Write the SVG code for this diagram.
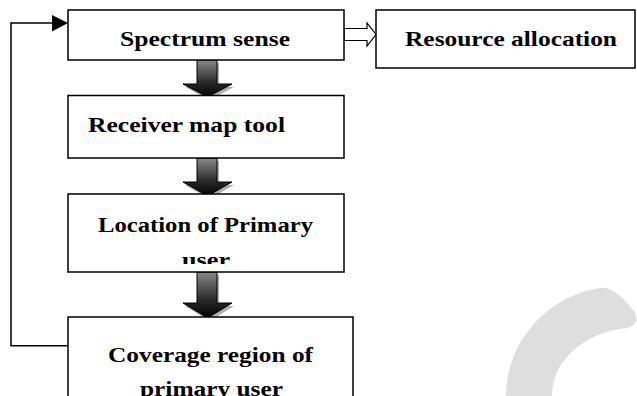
<svg xmlns="http://www.w3.org/2000/svg" width="637" height="396" viewBox="0 0 637 396">
<style>
.box{fill:#fff;stroke:#000;stroke-width:1.5}
.t{font-family:"Liberation Serif","Times New Roman",serif;font-weight:bold;font-size:22px;fill:#000}
.ln{fill:none;stroke:#000;stroke-width:1.5}
.shadow{fill:#9a9a9a;opacity:0.8}
.down{fill:url(#g);stroke:#000;stroke-width:1}
</style>
<defs>
<linearGradient id="g" x1="0" y1="0" x2="0" y2="1">
<stop offset="0" stop-color="#8a8a8a"/>
<stop offset="0.6" stop-color="#2a2a2a"/>
<stop offset="1" stop-color="#000"/>
</linearGradient>
<clipPath id="c4"><rect x="68" y="194" width="276" height="70"/></clipPath>
<clipPath id="c5"><rect x="68" y="317" width="285" height="79"/></clipPath>
</defs>
<rect width="637" height="396" fill="#fff"/>
<path id="watermark" d="M506 400 L506 396 C506 340 550 295 600 288 C612 286 625 300 633 310 C640 320 635 326 627 328 C585 332 552 360 552 396 L552 400 Z" fill="#dedede"/>
<g id="connectors">
<polyline class="ln" points="68,345.7 11,345.7 11,23 53,23"/>
<polygon points="52,15 68,23 52,31.5" fill="#000"/>
<polygon points="344,28.5 367,28.5 367,23 376,34.5 367,46 367,40.5 344,40.5" fill="#fff" stroke="#000" stroke-width="1.2"/>
<g id="arrow1">
<polygon class="shadow" points="199,63 219,63 219,87 234,87 209.5,100 185,87 199,87"/>
<polygon class="down" points="197,60 217,60 217,84 232,84 207.5,97 183,84 197,84"/>
</g>
<g id="arrow2">
<polygon class="shadow" points="199,161 219,161 219,185 234,185 209.5,199 185,185 199,185"/>
<polygon class="down" points="197,158 217,158 217,182 232,182 207.5,196 183,182 197,182"/>
</g>
<g id="arrow3">
<polygon class="shadow" points="199,275 219,275 219,306 234,306 209.5,321 185,306 199,306"/>
<polygon class="down" points="197,272 217,272 217,303 232,303 207.5,318 183,303 197,303"/>
</g>
</g>
<g id="spectrum">
<rect class="box" x="68" y="10" width="276" height="50"/>
<text class="t" x="120" y="46" textLength="170" lengthAdjust="spacingAndGlyphs">Spectrum sense</text>
</g>
<g id="resource">
<rect class="box" x="376" y="10" width="259" height="58"/>
<text class="t" x="405" y="46" textLength="212" lengthAdjust="spacingAndGlyphs">Resource allocation</text>
</g>
<g id="receiver">
<rect class="box" x="68" y="95.5" width="276" height="62.5"/>
<text class="t" x="88" y="131.5" textLength="197" lengthAdjust="spacingAndGlyphs">Receiver map tool</text>
</g>
<g id="location">
<rect class="box" x="68" y="194" width="276" height="78"/>
<g clip-path="url(#c4)">
<text class="t" x="98" y="231.5" textLength="215" lengthAdjust="spacingAndGlyphs">Location of Primary</text>
<text class="t" x="182" y="267" textLength="48" lengthAdjust="spacingAndGlyphs">user</text>
</g>
</g>
<g id="coverage">
<rect class="box" x="68" y="317" width="285" height="90"/>
<g clip-path="url(#c5)">
<text class="t" x="108" y="361.5" textLength="205" lengthAdjust="spacingAndGlyphs">Coverage region of</text>
<text class="t" x="140" y="396" textLength="143" lengthAdjust="spacingAndGlyphs">primary user</text>
</g>
</g>
</svg>
